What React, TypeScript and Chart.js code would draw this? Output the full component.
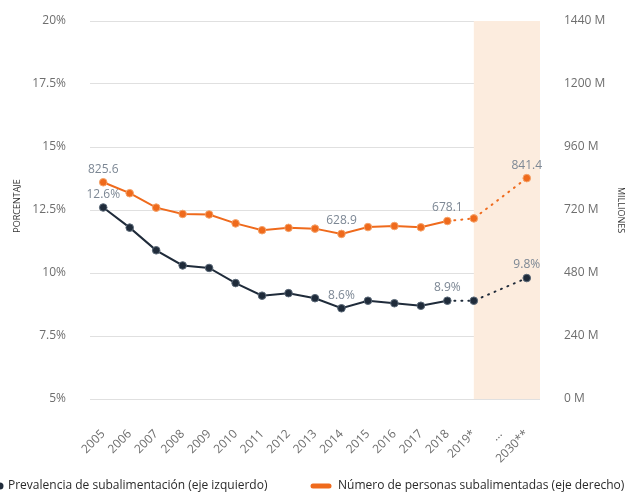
import React, { useEffect, useRef } from "react";
import { Chart, registerables } from "chart.js";

Chart.register(...registerables);

const categories = [
  "2005", "2006", "2007", "2008", "2009", "2010", "2011", "2012", "2013",
  "2014", "2015", "2016", "2017", "2018", "2019*", "...", "2030**",
];
const prevalence: (number | null)[] = [
  12.6, 11.8, 10.9, 10.3, 10.2, 9.6, 9.1, 9.2, 9.0, 8.6, 8.9, 8.8, 8.7, 8.9, 8.9, null, 9.8,
];
const people: (number | null)[] = [
  825.6, 784, 729, 705, 703, 669, 643, 652, 649, 628.9, 655, 659, 654, 678.1, 688, null, 841.4,
];
const prevalenceLabelIdx = [0, 9, 13, 16];
const peopleLabelIdx = [0, 9, 13, 16];
const forecastStartIdx = 14;
const leftMin = 5;
const leftMax = 20;
const leftStep = 2.5;
const rightMin = 0;
const rightMax = 1440;
const rightStep = 240;
const legendLabels = [
  "Prevalencia de subalimentación (eje izquierdo)",
  "Número de personas subalimentadas (eje derecho)",
];
const axisTitles = ["PORCENTAJE", "MILLIONES"];

const ORANGE = "#ef6a1c";
const NAVY = "#1f2b3a";
const LABEL_GRAY = "#7c8794";
const TICK_GRAY = "#6e6e6e";
const FONT = "'Open Sans', sans-serif";

export default function App() {
  const ref = useRef<HTMLCanvasElement | null>(null);

  useEffect(() => {
    if (!ref.current) return;

    const shadePlugin = {
      id: "shade",
      beforeDatasetsDraw(chart: any) {
        const { ctx, chartArea, scales } = chart;
        const x0 = scales.x.getPixelForValue(forecastStartIdx);
        ctx.save();
        ctx.fillStyle = "#fcecde";
        ctx.fillRect(x0, chartArea.top, chartArea.right - x0, chartArea.bottom - chartArea.top);
        ctx.restore();
      },
    };

    const labelsPlugin = {
      id: "pointLabels",
      afterDatasetsDraw(chart: any) {
        const { ctx } = chart;
        ctx.save();
        ctx.font = `12px ${FONT}`;
        ctx.fillStyle = LABEL_GRAY;
        ctx.textAlign = "center";
        ctx.textBaseline = "middle";
        const m1 = chart.getDatasetMeta(1);
        peopleLabelIdx.forEach((i) => {
          const p = m1.data[i];
          const v = people[i] as number;
          ctx.fillText(v.toFixed(1), p.x, p.y - 13);
        });
        const m0 = chart.getDatasetMeta(0);
        prevalenceLabelIdx.forEach((i) => {
          const p = m0.data[i];
          const v = prevalence[i] as number;
          ctx.fillText(v.toFixed(1) + "%", p.x, p.y - 13);
        });
        ctx.restore();
      },
    };

    const extrasPlugin = {
      id: "extras",
      afterDraw(chart: any) {
        const { ctx } = chart;
        ctx.save();
        ctx.font = `9px ${FONT}`;
        ctx.fillStyle = "#333333";
        ctx.textAlign = "center";
        ctx.textBaseline = "middle";
        ctx.save();
        ctx.translate(17, 206);
        ctx.rotate(-Math.PI / 2);
        ctx.fillText(axisTitles[0], 0, 0);
        ctx.restore();
        ctx.save();
        ctx.translate(621, 210);
        ctx.rotate(Math.PI / 2);
        ctx.fillText(axisTitles[1], 0, 0);
        ctx.restore();

        ctx.font = `12px ${FONT}`;
        ctx.textAlign = "left";
        ctx.textBaseline = "middle";
        ctx.beginPath();
        ctx.fillStyle = NAVY;
        ctx.arc(0, 486, 3.5, 0, Math.PI * 2);
        ctx.fill();
        ctx.fillStyle = "#2a2a2a";
        ctx.fillText(legendLabels[0], 8, 486);
        ctx.strokeStyle = ORANGE;
        ctx.lineWidth = 5;
        ctx.lineCap = "round";
        ctx.beginPath();
        ctx.moveTo(313, 486);
        ctx.lineTo(329, 486);
        ctx.stroke();
        ctx.fillText(legendLabels[1], 338, 486);
        ctx.restore();
      },
    };

    const dotted = (ctx: any) => (ctx.p0DataIndex >= 13 ? [1, 6] : undefined);

    const chart = new Chart(ref.current, {
      type: "line",
      data: {
        labels: categories,
        datasets: [
          {
            label: legendLabels[0],
            data: prevalence,
            yAxisID: "y",
            borderColor: NAVY,
            backgroundColor: NAVY,
            borderWidth: 2,
            pointRadius: 3.8,
            pointBorderWidth: 1,
            pointBorderColor: "#5a6877",
            spanGaps: true,
            borderCapStyle: "round",
            segment: { borderDash: dotted },
          } as any,
          {
            label: legendLabels[1],
            data: people,
            yAxisID: "y1",
            borderColor: ORANGE,
            backgroundColor: ORANGE,
            borderWidth: 2,
            pointRadius: 3.8,
            pointBorderWidth: 1,
            pointBorderColor: "#f5a36a",
            spanGaps: true,
            borderCapStyle: "round",
            segment: { borderDash: dotted },
          } as any,
        ],
      },
      options: {
        animation: false,
        responsive: true,
        maintainAspectRatio: false,
        layout: { padding: { top: 21, left: 0, right: 0, bottom: 0 } },
        plugins: {
          legend: { display: false },
          tooltip: { enabled: false },
        },
        scales: {
          x: {
            offset: true,
            grid: { display: false, drawTicks: false },
            border: { display: false },
            ticks: {
              autoSkip: false,
              minRotation: 45,
              maxRotation: 45,
              padding: 28,
              color: TICK_GRAY,
              font: { family: FONT, size: 12 },
            },
            afterFit: (s: any) => {
              s.height = 96;
              s.paddingLeft = 0;
              s.paddingRight = 0;
            },
          },
          y: {
            position: "left",
            min: leftMin,
            max: leftMax,
            grid: { color: "#e0e0e0", drawTicks: false, lineWidth: 1 },
            border: { display: false },
            ticks: {
              stepSize: leftStep,
              padding: 24,
              color: TICK_GRAY,
              font: { family: FONT, size: 12 },
              callback: (v: any) => `${v}%`,
            },
            afterFit: (s: any) => {
              s.width = 90;
              s.paddingTop = 0;
              s.paddingBottom = 0;
            },
          },
          y1: {
            position: "right",
            min: rightMin,
            max: rightMax,
            grid: { drawOnChartArea: false, drawTicks: false },
            border: { display: false },
            ticks: {
              stepSize: rightStep,
              padding: 24,
              color: TICK_GRAY,
              font: { family: FONT, size: 12 },
              callback: (v: any) => `${v} M`,
            },
            afterFit: (s: any) => {
              s.width = 101;
              s.paddingTop = 0;
              s.paddingBottom = 0;
            },
          },
        },
      },
      plugins: [shadePlugin, labelsPlugin, extrasPlugin],
    });

    return () => chart.destroy();
  }, []);

  return (
    <div style={{ position: "absolute", left: 0, top: 0, width: 641, height: 495, background: "#ffffff" }}>
      <canvas ref={ref} />
    </div>
  );
}
